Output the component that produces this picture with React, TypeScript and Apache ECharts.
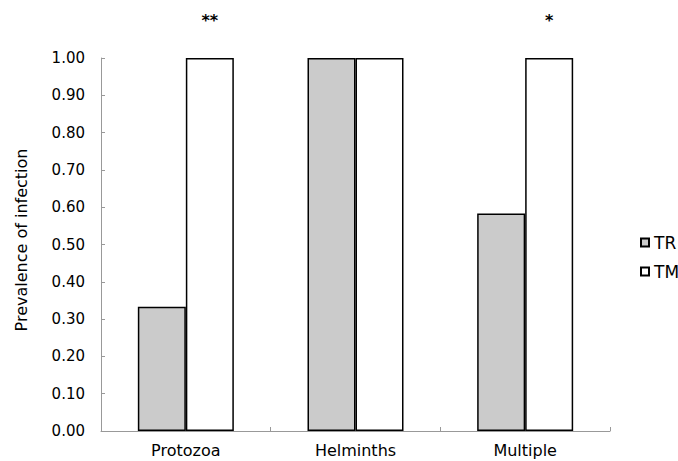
import React, { useEffect, useRef } from "react";
import * as echarts from "echarts";

const categories = ["Protozoa", "Helminths", "Multiple"];
const trValues = [0.333, 1.0, 0.583];
const tmValues = [1.0, 1.0, 1.0];
const significance = ["**", "", "*"];
const yTicks = [0, 0.1, 0.2, 0.3, 0.4, 0.5, 0.6, 0.7, 0.8, 0.9, 1.0];

const FONT = "DejaVu Sans, Liberation Sans, Arial, sans-serif";

export default function App() {
  const ref = useRef<HTMLDivElement>(null);
  useEffect(() => {
    if (!ref.current) return;
    const chart = echarts.init(ref.current, undefined, { renderer: "svg" });
    chart.setOption({
      animation: false,
      backgroundColor: "#ffffff",
      textStyle: { fontFamily: FONT, color: "#000" },
      grid: { left: 101, right: 68, top: 58, bottom: 30 },
      legend: {
        orient: "vertical",
        left: 635,
        top: 229,
        itemWidth: 8,
        itemHeight: 8,
        itemGap: 12,
        icon: "rect",
        textStyle: { fontFamily: FONT, fontSize: 17, color: "#000" },
        data: ["TR", "TM"],
      },
      xAxis: {
        type: "category",
        data: categories,
        axisLine: { lineStyle: { color: "#999", width: 1 } },
        axisTick: { show: true, inside: true, length: 4, lineStyle: { color: "#999" } },
        axisLabel: { fontFamily: FONT, fontSize: 16, color: "#000", margin: 11 },
      },
      yAxis: {
        type: "value",
        min: 0,
        max: 1,
        interval: 0.1,
        name: "Prevalence of infection",
        nameLocation: "middle",
        nameGap: 72,
        nameTextStyle: { fontFamily: FONT, fontSize: 16, color: "#000", padding: [0, 0, 0, 9] },
        axisLine: { show: true, lineStyle: { color: "#999", width: 1 } },
        axisTick: { show: true, inside: true, length: 4, lineStyle: { color: "#999" } },
        splitLine: { show: false },
        axisLabel: {
          fontFamily: FONT,
          fontSize: 15,
          color: "#000",
          margin: 16,
          formatter: (v: number) => {
            const t = yTicks.find((x) => Math.abs(x - v) < 1e-9);
            return (t !== undefined ? t : v).toFixed(2);
          },
        },
      },
      series: [
        {
          name: "TR",
          type: "bar",
          data: trValues,
          barWidth: 48,
          barGap: "0%",
          itemStyle: { color: "#cbcbcb", borderColor: "#000", borderWidth: 1.5 },
        },
        {
          name: "TM",
          type: "bar",
          data: tmValues,
          barWidth: 48,
          barGap: "0%",
          itemStyle: { color: "#ffffff", borderColor: "#000", borderWidth: 1.5 },
          label: {
            show: true,
            position: "top",
            distance: 30,
            fontFamily: FONT,
            fontSize: 16,
            fontWeight: "bold",
            color: "#000",
            formatter: (p: any) => significance[p.dataIndex],
          },
        },
      ],
    });
    return () => chart.dispose();
  }, []);
  return (
    <div
      ref={ref}
      style={{ position: "fixed", left: 0, top: 0, width: 678, height: 461 }}
    />
  );
}
